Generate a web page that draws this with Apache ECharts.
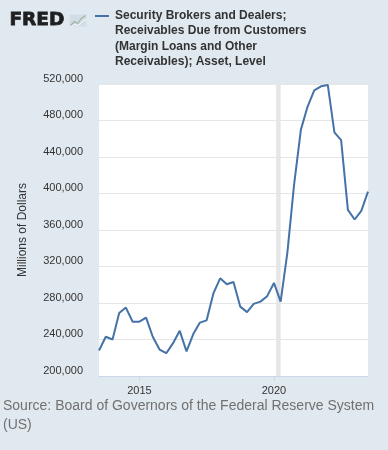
<!DOCTYPE html>
<html>
<head>
<meta charset="utf-8">
<script src="https://cdn.jsdelivr.net/npm/echarts@6/dist/echarts.min.js"></script>
<style>
html,body{margin:0;padding:0;background:#e1e9f0;}
#chart{width:388px;height:450px;}
</style>
</head>
<body>
<div id="chart"></div>
<script>
var dates = [
  '2013-07-01','2013-10-01',
  '2014-01-01','2014-04-01','2014-07-01','2014-10-01',
  '2015-01-01','2015-04-01','2015-07-01','2015-10-01',
  '2016-01-01','2016-04-01','2016-07-01','2016-10-01',
  '2017-01-01','2017-04-01','2017-07-01','2017-10-01',
  '2018-01-01','2018-04-01','2018-07-01','2018-10-01',
  '2019-01-01','2019-04-01','2019-07-01','2019-10-01',
  '2020-01-01','2020-04-01','2020-07-01','2020-10-01',
  '2021-01-01','2021-04-01','2021-07-01','2021-10-01',
  '2022-01-01','2022-04-01','2022-07-01','2022-10-01',
  '2023-01-01','2023-04-01','2023-07-01'
];
var receivables = [
  228000, 243000,
  240000, 269000, 275000, 259500,
  259500, 264000, 243000, 229000,
  225000, 236000, 249500, 227000,
  246000, 258500, 261000, 290500,
  307000, 300500, 303000, 276000,
  270000, 279000, 281500, 287500,
  302000, 281500, 335000, 410000,
  470000, 495000, 513000, 517500,
  519000, 467000, 458500, 382000,
  371500, 381000, 402000
];
var xTickLabels = ['2015-01-01', '2020-01-01'];
var recession = ['2020-02-01', '2020-04-01'];
var seriesName = 'Security Brokers and Dealers; Receivables Due from Customers (Margin Loans and Other Receivables); Asset, Level';
var legendLines = ['Security Brokers and Dealers;', 'Receivables Due from Customers', '(Margin Loans and Other', 'Receivables); Asset, Level'];
var yAxisName = 'Millions of Dollars';
var sourceLines = ['Source: Board of Governors of the Federal Reserve System', '(US)'];

function toTime(s) {
  var p = s.split('-');
  return Date.UTC(+p[0], +p[1] - 1, +p[2]);
}

var chart = echarts.init(document.getElementById('chart'));
var data = dates.map(function (d, i) { return [toTime(d), receivables[i]]; });
var tickValues = xTickLabels.map(toTime);

chart.setOption({
  backgroundColor: '#e1e9f0',
  animation: false,
  textStyle: { fontFamily: 'Liberation Sans, Arial, sans-serif' },
  grid: {
    left: 99, right: 20, top: 84, bottom: 74,
    show: true, backgroundColor: '#ffffff', borderWidth: 0
  },
  xAxis: {
    type: 'value',
    min: toTime(dates[0]),
    max: toTime(dates[dates.length - 1]),
    splitLine: { show: false },
    axisLine: { show: true, lineStyle: { color: '#ccd6eb', width: 1 } },
    axisTick: { show: true, customValues: tickValues, length: 5, lineStyle: { color: '#ccd6eb' } },
    axisLabel: {
      customValues: tickValues,
      color: '#333', fontSize: 11, margin: 9,
      formatter: function (v) { return String(new Date(v).getUTCFullYear()); }
    }
  },
  yAxis: {
    type: 'value',
    min: 200000, max: 520000, interval: 40000,
    name: yAxisName,
    nameLocation: 'middle',
    nameGap: 70,
    nameTextStyle: { color: '#333', fontSize: 12 },
    axisLine: { show: false },
    axisTick: { show: false },
    splitLine: { lineStyle: { color: '#e6e6e6', width: 1 } },
    axisLabel: {
      color: '#333', fontSize: 11, margin: 16,
      verticalAlign: 'bottom',
      formatter: function (v) { return v.toLocaleString('en-US'); }
    }
  },
  series: [{
    name: seriesName,
    type: 'line',
    data: data,
    showSymbol: false,
    symbol: 'none',
    lineStyle: { color: '#4572a7', width: 2 },
    itemStyle: { color: '#4572a7' },
    z: 3,
    markArea: {
      silent: true,
      itemStyle: { color: '#e6e6e6' },
      data: [[{ xAxis: toTime(recession[0]) }, { xAxis: toTime(recession[1]) }]]
    }
  }],
  graphic: [
    {
      type: 'text', left: 9, top: 10,
      style: { text: 'FRED', font: '900 18.5px "DejaVu Sans", sans-serif', fill: '#1f1f1f', stroke: '#1f1f1f', lineWidth: 0.8 }
    },
    {
      type: 'group', left: 68, top: 13,
      children: [
        { type: 'rect', shape: { x: 0, y: 0, width: 17, height: 12 }, style: { fill: '#d3dde6', stroke: 'none' } },
        { type: 'polyline', shape: { points: [[1, 11], [5, 7], [8, 9], [12, 4], [16, 1]] }, style: { stroke: '#9fb2a8', lineWidth: 1.2, fill: 'none' } },
        { type: 'polyline', shape: { points: [[1, 12], [5, 10], [9, 11], [13, 7], [17, 5]] }, style: { stroke: '#f4f6f8', lineWidth: 1, fill: 'none' } }
      ]
    },
    {
      type: 'line', shape: { x1: 95, y1: 16, x2: 109, y2: 16 },
      style: { stroke: '#4572a7', lineWidth: 2 }
    },
    {
      type: 'text', left: 115, top: 8,
      style: { text: legendLines.join('\n'), font: 'bold 12px "Liberation Sans", Arial, sans-serif', lineHeight: 15.3, fill: '#333' }
    },
    {
      type: 'text', left: 3, top: 397,
      style: { text: sourceLines.join('\n'), font: '14px "Liberation Sans", Arial, sans-serif', lineHeight: 19, fill: '#707070' }
    }
  ]
});
</script>
</body>
</html>
